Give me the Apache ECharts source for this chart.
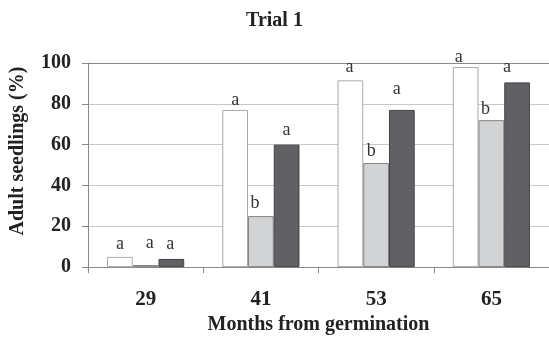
<!DOCTYPE html>
<html><head><meta charset="utf-8">
<script src="https://cdn.jsdelivr.net/npm/echarts@6/dist/echarts.min.js"></script>
<style>html,body{margin:0;padding:0;background:#fff}#c{width:549px;height:340px}</style>
</head><body><div id="c"></div>
<script>
var categories = ['29', '41', '53', '65'];
var whiteValues = [5, 77, 91.5, 98];
var grayValues = [1, 25, 51, 72];
var darkValues = [4, 60, 77, 90.5];
var whiteLetters = ['a', 'a', 'a', 'a'];
var grayLetters = ['a', 'b', 'b', 'b'];
var darkLetters = ['a', 'a', 'a', 'a'];
var yTicks = [0, 20, 40, 60, 80, 100];

// label nudges (styling only)
var whiteNudge = [[0, 0], [0, 3], [-1, 0], [-7, 3]];
var grayNudge = [[4, -9], [-6, 0], [-5, 1], [-6, 2]];
var darkNudge = [[-1, -2], [0, -1], [-5, -8], [-10, -2]];

var serif = '"Liberation Serif", "DejaVu Serif", serif';

function build(values, letters, nudge) {
  return values.map(function (v, i) {
    return { value: v, label: { formatter: letters[i], offset: nudge[i] } };
  });
}

var labelStyle = { show: true, position: 'top', distance: 4, fontFamily: serif, fontSize: 18, color: '#333' };

var chart = echarts.init(document.getElementById('c'), null, { renderer: 'canvas' });
chart.setOption({
  animation: false,
  backgroundColor: '#fff',
  title: {
    text: 'Trial 1', left: 'center', top: 6,
    textStyle: { fontFamily: serif, fontWeight: 'bold', fontSize: 20, color: '#222' }
  },
  grid: { left: 87, right: 0, top: 63, bottom: 70 },
  xAxis: [{
    type: 'category', data: categories,
    name: 'Months from germination', nameLocation: 'middle', nameGap: 46,
    nameTextStyle: { fontFamily: serif, fontWeight: 'bold', fontSize: 20, color: '#222' },
    axisLine: { lineStyle: { color: '#888', width: 1 } },
    axisTick: { show: true, length: 6, lineStyle: { color: '#888' } },
    axisLabel: { margin: 22, fontFamily: serif, fontWeight: 'bold', fontSize: 21, color: '#222' }
  }, {
    type: 'category', data: categories, position: 'top',
    axisLine: { show: true, lineStyle: { color: '#888', width: 1 } },
    axisTick: { show: false }, axisLabel: { show: false }
  }],
  yAxis: {
    type: 'value', min: 0, max: 100, interval: 20,
    name: 'Adult seedlings (%)', nameLocation: 'middle', nameGap: 60, nameRotate: 90,
    nameTextStyle: { fontFamily: serif, fontWeight: 'bold', fontSize: 20, color: '#222', padding: [0, 0, 0, 28] },
    axisLine: { show: true, lineStyle: { color: '#888', width: 1 } },
    axisTick: { show: true, length: 6, lineStyle: { color: '#888' } },
    axisLabel: {
      margin: 17, fontFamily: serif, fontWeight: 'bold', fontSize: 20, color: '#222',
      formatter: function (v) { return yTicks.indexOf(v) >= 0 ? String(v) : ''; }
    },
    splitLine: { show: true, lineStyle: { color: '#c8c8c8', width: 1 } }
  },
  series: [{
    type: 'bar', data: build(whiteValues, whiteLetters, whiteNudge),
    barGap: '0%', barCategoryGap: '33%',
    itemStyle: { color: '#ffffff', borderColor: '#a8a8a8', borderWidth: 1 },
    label: labelStyle
  }, {
    type: 'bar', data: build(grayValues, grayLetters, grayNudge),
    barGap: '0%', barCategoryGap: '33%',
    itemStyle: { color: '#d2d3d5', borderColor: '#858585', borderWidth: 1 },
    label: labelStyle
  }, {
    type: 'bar', data: build(darkValues, darkLetters, darkNudge),
    barGap: '0%', barCategoryGap: '33%',
    itemStyle: { color: '#616165', borderColor: '#444', borderWidth: 1 },
    label: labelStyle
  }]
});
</script></body></html>
